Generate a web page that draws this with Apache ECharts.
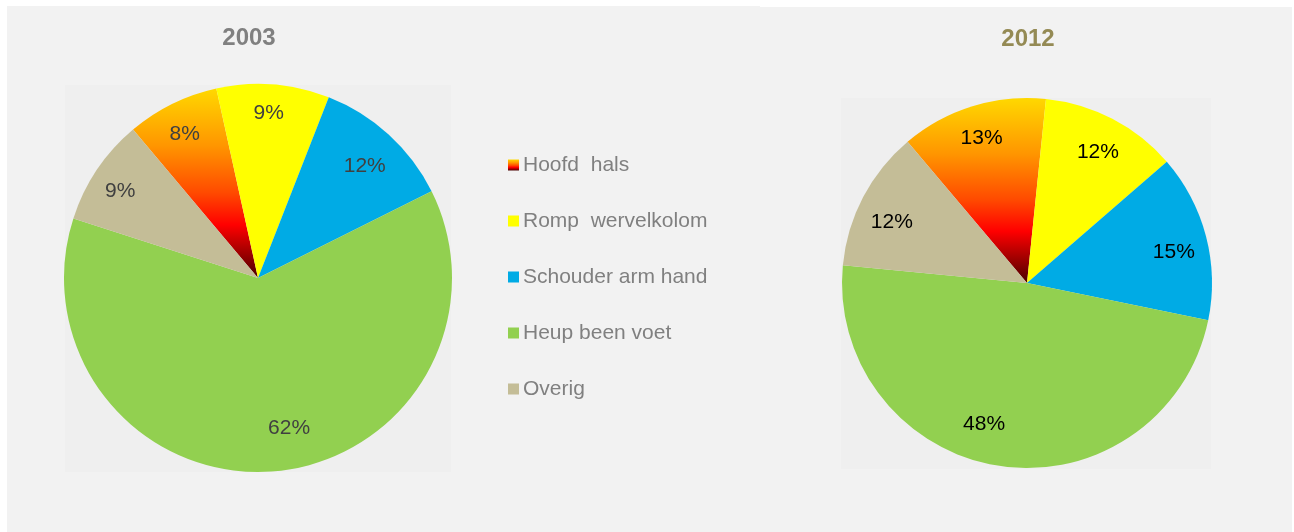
<!DOCTYPE html>
<html>
<head>
<meta charset="utf-8">
<script src="https://cdn.jsdelivr.net/npm/echarts@6/dist/echarts.min.js"></script>
<style>
  html, body { margin: 0; padding: 0; background: #fff; }
  #chart { width: 1294px; height: 532px; }
</style>
</head>
<body>
<div id="chart"></div>
<script>
// data
const categories = ['Hoofd  hals', 'Romp  wervelkolom', 'Schouder arm hand', 'Heup been voet', 'Overig']
const years = ['2003', '2012']
const values2003 = [7.7, 9.4, 11.7, 62.4, 8.9]
const values2012 = [12.8, 12.0, 14.6, 48.3, 12.3]

const FONT = '"Liberation Sans", Arial, sans-serif'

// Excel's "best fit" labels don't sit exactly on the mid angle, small nudges
const labelNudge2003 = [[-2, 1], [-2, -4], [-2, 7], [19, -10], [-4, 3]]
const labelNudge2012 = [[0, 2], [0, 6], [-2, 8], [-20, -11], [1, 11]]

// Hoofd slice is a vertical gradient, the rest are flat
const hoofdGradient = new echarts.graphic.LinearGradient(0, 0, 0, 1, [
  { offset: 0, color: '#ffd800' },
  { offset: 0.3, color: '#ff9600' },
  { offset: 0.55, color: '#ff4a00' },
  { offset: 0.72, color: '#ff0000' },
  { offset: 1, color: '#4a0000' }
])
const colors = [hoofdGradient, '#ffff00', '#00abe5', '#92d050', '#c4bd97']

function pieData(values) {
  return categories.map((name, i) => ({
    name: name,
    value: values[i],
    itemStyle: { color: colors[i] }
  }))
}

// the real pie, no labels
function pieSeries(values, center, radius, startAngle) {
  return {
    type: 'pie',
    center: center,
    radius: [0, radius],
    startAngle: startAngle,
    clockwise: true,
    percentPrecision: 0,
    label: { show: false },
    labelLine: { show: false },
    emphasis: { disabled: true },
    itemStyle: { borderWidth: 0 },
    data: pieData(values)
  }
}

// transparent ring on top, only to place the labels further out like Excel does
function labelSeries(values, nudge, center, radius, startAngle, textColor) {
  return {
    type: 'pie',
    silent: true,
    center: center,
    radius: [radius * 0.63, radius],
    startAngle: startAngle,
    clockwise: true,
    percentPrecision: 0,
    itemStyle: { color: 'rgba(0,0,0,0)', borderWidth: 0 },
    label: {
      show: true,
      position: 'inside',
      formatter: '{d}%',
      color: textColor,
      fontSize: 21,
      fontFamily: FONT
    },
    labelLine: { show: false },
    emphasis: { disabled: true },
    data: categories.map((name, i) => ({
      name: name,
      value: values[i],
      label: { offset: nudge[i] }
    }))
  }
}

const chart = echarts.init(document.getElementById('chart'))

chart.setOption({
  backgroundColor: '#ffffff',
  animation: false,
  graphic: [
    { type: 'rect', z: -10, shape: { x: 7, y: 6, width: 753, height: 526 }, style: { fill: '#f2f2f2' } },
    { type: 'rect', z: -10, shape: { x: 760, y: 7, width: 532, height: 525 }, style: { fill: '#f2f2f2' } },
    { type: 'rect', z: -9, shape: { x: 65, y: 85, width: 386, height: 387 }, style: { fill: '#efefef' } },
    { type: 'rect', z: -9, shape: { x: 841, y: 98, width: 370, height: 371 }, style: { fill: '#efefef' } }
  ],
  title: [
    {
      text: years[0],
      left: 249,
      top: 26,
      textAlign: 'center',
      padding: 0,
      textStyle: { color: '#808080', fontSize: 24, fontWeight: 'bold', fontFamily: FONT }
    },
    {
      text: years[1],
      left: 1028,
      top: 27,
      textAlign: 'center',
      padding: 0,
      textStyle: { color: '#948a54', fontSize: 24, fontWeight: 'bold', fontFamily: FONT }
    }
  ],
  legend: {
    orient: 'vertical',
    left: 508,
    top: 154,
    padding: 0,
    itemWidth: 11,
    itemHeight: 11,
    itemGap: 34,
    icon: 'rect',
    selectedMode: false,
    data: categories,
    textStyle: {
      color: '#808080',
      fontSize: 21,
      lineHeight: 22,
      padding: [0, 0, 0, -1],
      fontFamily: FONT
    }
  },
  series: [
    pieSeries(values2003, [258, 278], 194, 130.1),
    pieSeries(values2012, [1027, 283], 185, 130.2),
    labelSeries(values2003, labelNudge2003, [258, 278], 194, 130.1, '#404040'),
    labelSeries(values2012, labelNudge2012, [1027, 283], 185, 130.2, '#000000')
  ]
})

window.addEventListener('resize', () => chart.resize())
</script>
</body>
</html>
